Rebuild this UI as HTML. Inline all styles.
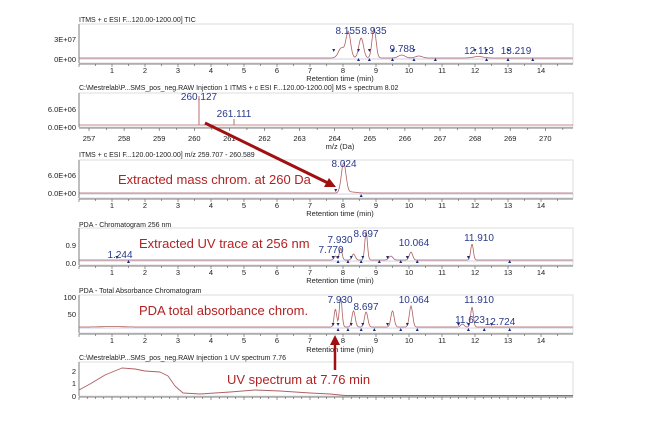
<!DOCTYPE html>
<html><head><meta charset="utf-8"><style>
body{margin:0;background:#fff;width:660px;height:424px;overflow:hidden}
svg{font-family:"Liberation Sans",sans-serif}
.t{font-size:7px;fill:#222}
.yl{font-size:7.5px;fill:#222;text-anchor:end}
.xl{font-size:7.5px;fill:#222;text-anchor:middle}
.pk{font-size:10px;fill:#2a3a8a;text-anchor:middle}
.an{font-size:13px;fill:#b22222}
</style></head><body>
<svg id="s" width="660" height="424" viewBox="0 0 660 424">
<g id="g"></g>
<!-- titles -->
<text class="t" x="79" y="22">ITMS + c ESI F...120.00-1200.00] TIC</text>
<text class="t" x="79" y="90">C:\Mestrelab\P...SMS_pos_neg.RAW Injection 1 ITMS + c ESI F...120.00-1200.00] MS + spectrum 8.02</text>
<text class="t" x="79" y="157">ITMS + c ESI F...120.00-1200.00]  m/z 259.707 - 260.589</text>
<text class="t" x="79" y="227">PDA - Chromatogram 256 nm</text>
<text class="t" x="79" y="293">PDA - Total Absorbance Chromatogram</text>
<text class="t" x="79" y="360">C:\Mestrelab\P...SMS_pos_neg.RAW Injection 1  UV spectrum 7.76</text>
<!-- y labels -->
<text class="yl" x="76" y="42">3E+07</text><text class="yl" x="76" y="62">0E+00</text>
<text class="yl" x="76" y="112">6.0E+06</text><text class="yl" x="76" y="130">0.0E+00</text>
<text class="yl" x="76" y="178">6.0E+06</text><text class="yl" x="76" y="196">0.0E+00</text>
<text class="yl" x="76" y="248">0.9</text><text class="yl" x="76" y="266">0.0</text>
<text class="yl" x="76" y="300">100</text><text class="yl" x="76" y="317">50</text>
<text class="yl" x="76" y="374">2</text><text class="yl" x="76" y="386">1</text><text class="yl" x="76" y="399">0</text>
<!-- axis titles -->
<text class="xl" x="340" y="81">Retention time (min)</text>
<text class="xl" x="340" y="149">m/z (Da)</text>
<text class="xl" x="340" y="216">Retention time (min)</text>
<text class="xl" x="340" y="283">Retention time (min)</text>
<text class="xl" x="340" y="352">Retention time (min)</text>
<!-- peak labels -->
<text class="pk" x="348" y="34">8.155</text><text class="pk" x="374" y="34">8.935</text>
<text class="pk" x="402" y="52">9.788</text><text class="pk" x="479" y="54">12.113</text><text class="pk" x="516" y="54">13.219</text>
<text class="pk" x="199" y="100">260.127</text><text class="pk" x="234" y="117">261.111</text>
<text class="pk" x="344" y="167">8.024</text>
<text class="pk" x="120" y="258">1.244</text><text class="pk" x="331" y="253">7.770</text><text class="pk" x="340" y="243">7.930</text>
<text class="pk" x="366" y="237">8.697</text><text class="pk" x="414" y="246">10.064</text><text class="pk" x="479" y="241">11.910</text>
<text class="pk" x="340" y="303">7.930</text><text class="pk" x="366" y="310">8.697</text><text class="pk" x="414" y="303">10.064</text>
<text class="pk" x="479" y="303">11.910</text><text class="pk" x="470" y="323">11.623</text><text class="pk" x="500" y="325">12.724</text>
<!-- annotations -->
<text class="an" x="118" y="184">Extracted mass chrom. at 260 Da</text>
<text class="an" x="139" y="248">Extracted UV trace at 256 nm</text>
<text class="an" x="139" y="315">PDA total absorbance chrom.</text>
<text class="an" x="227" y="384">UV spectrum at 7.76 min</text>
<line x1="205" y1="123" x2="328" y2="183" stroke="#a01010" stroke-width="3"/>
<polygon points="336,187 324,187 329,178" fill="#a01010"/>
<line x1="335" y1="370" x2="335" y2="344" stroke="#a01010" stroke-width="2.5"/>
<polygon points="335,335 330,345 340,345" fill="#a01010"/>
</svg>
<script>
var g=document.getElementById('g'),NS='http://www.w3.org/2000/svg',h='';
function X(t){return 79+t*33}
function box(y0,y1){h+='<rect x="79" y="'+y0+'" width="494" height="'+(y1-y0)+'" fill="none" stroke="#ddd"/>';
h+='<line x1="79" y1="'+y0+'" x2="79" y2="'+y1+'" stroke="#555" stroke-width="0.7"/>';
h+='<line x1="79" y1="'+(y1+1)+'" x2="573" y2="'+(y1+1)+'" stroke="#555" stroke-width="0.7"/>';}
function ticks(y,lab,ly){for(var t=0;t<=14.9;t+=0.5){var x=X(t);h+='<line x1="'+x+'" y1="'+y+'" x2="'+x+'" y2="'+(y+(t%1?2:3))+'" stroke="#555" stroke-width="0.6"/>';if(lab&&t%1==0&&t>0)h+='<text class="xl" x="'+x+'" y="'+ly+'">'+t+'</text>';}}
function trace(base,pk){var d='';for(var t=0;t<=14.97;t+=0.02){var y=base;pk.forEach(function(p){y-=p[1]*Math.exp(-Math.pow((t-p[0])/p[2],2)/2)});d+=(d?'L':'M')+X(t).toFixed(1)+','+y.toFixed(1);}h+='<path d="'+d+'" fill="none" stroke="#b06060" stroke-width="0.8"/>';h+='<line x1="79" y1="'+(base+1)+'" x2="573" y2="'+(base+1)+'" stroke="#8888cc" stroke-width="0.4"/>';}
function mk(ts,y,up){ts.forEach(function(t){var x=X(t);h+=up?'<polygon points="'+(x-1.5)+','+(y+3)+' '+(x+1.5)+','+(y+3)+' '+x+','+y+'" fill="#1a2a7a"/>':'<polygon points="'+(x-1.5)+','+y+' '+(x+1.5)+','+y+' '+x+','+(y+3)+'" fill="#1a2a7a"/>';});}
// panel1
box(24,63);ticks(64,1,73);
trace(58,[[7.95,10,.09],[8.16,26,.07],[8.55,20,.07],[8.94,30,.06],[9.78,3,.1],[10.3,2,.1],[12.1,1.5,.15]]);
mk([7.72,8.47,8.8,9.5,10.15,12.0,12.35,13.0],49,0);mk([8.47,8.8,9.5,10.15,10.8,12.35,13.0,13.75],58,1);
// panel2
box(93,127);
for(var m=257;m<=270.5;m+=0.5){var x=89+(m-257)*35.1;h+='<line x1="'+x+'" y1="128" x2="'+x+'" y2="'+(128+(m%1?2:3))+'" stroke="#555" stroke-width="0.6"/>';if(m%1==0)h+='<text class="xl" x="'+x+'" y="141">'+m+'</text>';}
h+='<line x1="79" y1="125" x2="573" y2="125" stroke="#b06060" stroke-width="0.8"/>';
h+='<line x1="199" y1="125" x2="199" y2="96" stroke="#b06060" stroke-width="0.9"/><line x1="234" y1="125" x2="234" y2="119" stroke="#b06060" stroke-width="0.9"/>';
// panel3
box(160,198);ticks(199,1,208);
trace(193,[[8.02,30,.07],[8.25,1,.15]]);mk([7.78],189,0);mk([8.55],194,1);
// panel4
box(228,265);ticks(266,1,275);
trace(260,[[7.77,4,.04],[7.93,12,.04],[8.32,6,.05],[8.7,28,.04],[9.45,4,.06],[10.06,8,.05],[11.91,16,.04]]);
mk([1.15,7.7,7.85,8.25,8.6,9.35,9.95,11.8],256,0);mk([1.5,7.85,8.15,8.55,9.1,9.75,10.25,13.05],260,1);
// panel5
box(295,333);ticks(334,1,343);
trace(327,[[1,0.5,.3],[7.77,18,.04],[7.93,30,.04],[8.32,16,.05],[8.7,15,.05],[9.5,16,.05],[10.06,21,.05],[11.62,3,.05],[11.91,20,.04]]);
mk([7.7,7.85,8.25,8.6,9.35,9.95,11.5,11.8,12.5],323,0);mk([7.85,8.15,8.55,8.95,9.75,10.25,11.8,12.28,13.05],328,1);
// panel6
box(362,396);
for(var t=0;t<=14.9;t+=0.25){var x=X(t);h+='<line x1="'+x+'" y1="397" x2="'+x+'" y2="'+(397+(t%1?2:3))+'" stroke="#555" stroke-width="0.6"/>';}
var pts=[[79,390],[90,384],[105,375],[122,368],[135,369],[145,371],[160,372],[168,376],[175,386],[183,393],[200,394],[230,392],[255,390],[280,391],[310,393],[330,394],[345,395.5],[573,395.5]],d='';
pts.forEach(function(p,i){d+=(i?'L':'M')+p[0]+','+p[1]});h+='<path d="'+d+'" fill="none" stroke="#b06060" stroke-width="0.9" stroke-linejoin="round"/>';
g.innerHTML=h;
</script>
</body></html>
